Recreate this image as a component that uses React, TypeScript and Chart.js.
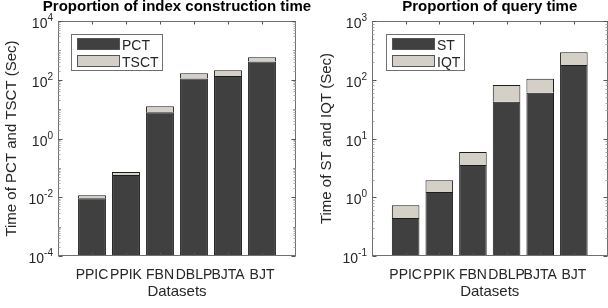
import React, { useEffect, useRef } from 'react';
import { Chart, registerables } from 'chart.js';

Chart.register(...registerables);

const categories = ['PPIC', 'PPIK', 'FBN', 'DBLP', 'BJTA', 'BJT'];
const pctValues = [0.0092, 0.057, 7.9, 111, 133, 419];
const tsctValues = [0.0024, 0.015, 4.7, 56, 79, 168];
const stValues = [0.443, 1.23, 3.54, 42.3, 60.3, 178];
const iqtValues = [0.29, 0.71, 2.35, 39, 44, 115];
const leftTickExponents = [-4, -2, 0, 2, 4];
const rightTickExponents = [-1, 0, 1, 2, 3];

const FONT = "'Liberation Sans', Arial, Helvetica, sans-serif";
const TEXT = '#262626';
const DARK = '#404040';
const LIGHT = '#d4d0c8';
const EDGE = '#1c1c1c';

const decorPlugin = {
  id: 'decor',
  afterDraw(chart: any, _args: any, opts: any) {
    const ctx = chart.ctx;
    const a = chart.chartArea;
    const xs = chart.scales.x;
    const ys = chart.scales.y;
    const L = Math.round(a.left) + 0.5;
    const R = Math.round(a.right) - 0.5;
    const T = Math.round(a.top) + 0.5;
    const B = Math.round(a.bottom) - 0.5;
    ctx.save();
    // box
    ctx.strokeStyle = '#707070';
    ctx.lineWidth = 1;
    ctx.strokeRect(L, T, R - L, B - T);
    // y ticks
    const exps: number[] = opts.exps;
    const minE = exps[0];
    const maxE = exps[exps.length - 1];
    for (let e = minE; e <= maxE; e++) {
      const py = Math.round(ys.getPixelForValue(Math.pow(10, e))) + 0.5;
      const major = exps.indexOf(e) >= 0;
      const len = major ? 4 : 2.5;
      ctx.strokeStyle = major ? '#555' : '#999';
      ctx.beginPath();
      ctx.moveTo(L, py); ctx.lineTo(L + len, py);
      ctx.moveTo(R, py); ctx.lineTo(R - len, py);
      ctx.stroke();
      if (e < maxE) {
        ctx.strokeStyle = '#aaa';
        for (let k = 2; k <= 9; k++) {
          const pm = Math.round(ys.getPixelForValue(k * Math.pow(10, e))) + 0.5;
          ctx.beginPath();
          ctx.moveTo(L, pm); ctx.lineTo(L + 2, pm);
          ctx.moveTo(R, pm); ctx.lineTo(R - 2, pm);
          ctx.stroke();
        }
      }
    }
    // x ticks
    ctx.strokeStyle = '#555';
    for (let i = 1; i <= categories.length; i++) {
      const px = Math.round(xs.getPixelForValue(i)) + 0.5;
      ctx.beginPath();
      ctx.moveTo(px, T); ctx.lineTo(px, T + 3);
      ctx.moveTo(px, B); ctx.lineTo(px, B - 3);
      ctx.stroke();
    }
    // y tick labels
    ctx.fillStyle = TEXT;
    ctx.textBaseline = 'alphabetic';
    for (const e of exps) {
      const py = ys.getPixelForValue(Math.pow(10, e));
      const expStr = e < 0 ? '-' + Math.abs(e) : String(e);
      ctx.font = `10px ${FONT}`;
      const ew = ctx.measureText(expStr).width;
      ctx.font = `14px ${FONT}`;
      const bw = ctx.measureText('10').width;
      const right = a.left - 5;
      ctx.textAlign = 'left';
      ctx.fillText('10', right - ew - bw, py + 7);
      ctx.font = `10px ${FONT}`;
      ctx.fillText(expStr, right - ew, py);
    }
    // title
    ctx.font = `bold 15px ${FONT}`;
    ctx.textAlign = 'center';
    ctx.fillStyle = '#000';
    ctx.fillText(opts.title, (a.left + a.right) / 2, 10.5);
    // legend
    const ds = chart.data.datasets;
    ctx.font = `14px ${FONT}`;
    let maxW = 0;
    for (const d of ds) maxW = Math.max(maxW, ctx.measureText(d.label).width);
    const bx = Math.round(a.left + opts.legendDx) + 0.5;
    const by = 34.5;
    const textX = a.left + opts.legendDx + 51;
    const bw2 = Math.round(textX + maxW + 4 - bx);
    ctx.fillStyle = '#fff';
    ctx.fillRect(bx, by, bw2, 36);
    ctx.strokeStyle = '#707070';
    ctx.strokeRect(bx, by, bw2, 36);
    ds.forEach((d: any, i: number) => {
      const sy = 38.5 + i * 17;
      ctx.fillStyle = d.backgroundColor;
      ctx.fillRect(bx + 6, sy, 42, 11);
      ctx.strokeStyle = '#555';
      ctx.strokeRect(bx + 6, sy, 42, 11);
      ctx.fillStyle = TEXT;
      ctx.textAlign = 'left';
      ctx.fillText(d.label, textX, sy + 11);
    });
    ctx.restore();
  },
};

function makeConfig(
  labels: string[],
  s1: number[],
  s2: number[],
  n1: string,
  n2: string,
  yMin: number,
  yMax: number,
  yTitle: string,
  yWidth: number,
  yTitlePad: number,
  padRight: number,
  title: string,
  exps: number[],
  legendDx: number,
) {
  const pad = (arr: number[]) => [null, ...arr, null];
  return {
    type: 'bar',
    data: {
      labels: ['', ...labels, ''],
      datasets: [
        { label: n1, data: pad(s1), backgroundColor: DARK, borderColor: EDGE, borderWidth: 1, barPercentage: 0.82, categoryPercentage: 1 },
        { label: n2, data: pad(s2), backgroundColor: LIGHT, borderColor: EDGE, borderWidth: 1, barPercentage: 0.82, categoryPercentage: 1 },
      ],
    },
    options: {
      responsive: false,
      animation: false,
      devicePixelRatio: 1,
      layout: { padding: { top: 21, left: 0, right: padRight, bottom: 0 } },
      plugins: {
        legend: { display: false },
        title: { display: false },
        tooltip: { enabled: false },
        decor: { title, exps, legendDx },
      },
      scales: {
        x: {
          stacked: true,
          offset: false,
          grid: { display: false },
          border: { display: false },
          ticks: { autoSkip: false, maxRotation: 0, minRotation: 0, padding: 2.5, color: TEXT, font: { size: 14, family: FONT } },
          title: { display: true, text: 'Datasets', color: TEXT, font: { size: 15, family: FONT }, padding: { top: 0, bottom: 7 } },
          afterFit: (s: any) => { s.height = 52; },
        },
        y: {
          type: 'logarithmic',
          stacked: true,
          min: yMin,
          max: yMax,
          grid: { display: false },
          border: { display: false },
          ticks: { display: false },
          title: { display: true, text: yTitle, color: TEXT, font: { size: 15, family: FONT }, padding: { top: yTitlePad, bottom: 0 } },
          afterFit: (s: any) => { s.width = yWidth; },
        },
      },
    },
    plugins: [decorPlugin],
  } as any;
}

export default function App() {
  const leftRef = useRef<HTMLCanvasElement>(null);
  const rightRef = useRef<HTMLCanvasElement>(null);

  useEffect(() => {
    const c1 = new Chart(
      leftRef.current as HTMLCanvasElement,
      makeConfig(categories, pctValues, tsctValues, 'PCT', 'TSCT', 1e-4, 1e4,
        'Time of PCT and TSCT (Sec)', 58, 3, 34, 'Proportion of index construction time', leftTickExponents, 13),
    );
    const c2 = new Chart(
      rightRef.current as HTMLCanvasElement,
      makeConfig(categories, stValues, iqtValues, 'ST', 'IQT', 1e-1, 1e3,
        'Time of ST and IQT (Sec)', 68, 13.5, 1, 'Proportion of query time', rightTickExponents, 14),
    );
    return () => {
      c1.destroy();
      c2.destroy();
    };
  }, []);

  return (
    <div style={{ position: 'absolute', left: 0, top: 0, width: 608, height: 308, overflow: 'hidden', background: '#fff' }}>
      <canvas ref={leftRef} width={330} height={308} style={{ position: 'absolute', left: 0, top: 0 }} />
      <canvas ref={rightRef} width={306} height={308} style={{ position: 'absolute', left: 304, top: 0 }} />
    </div>
  );
}
